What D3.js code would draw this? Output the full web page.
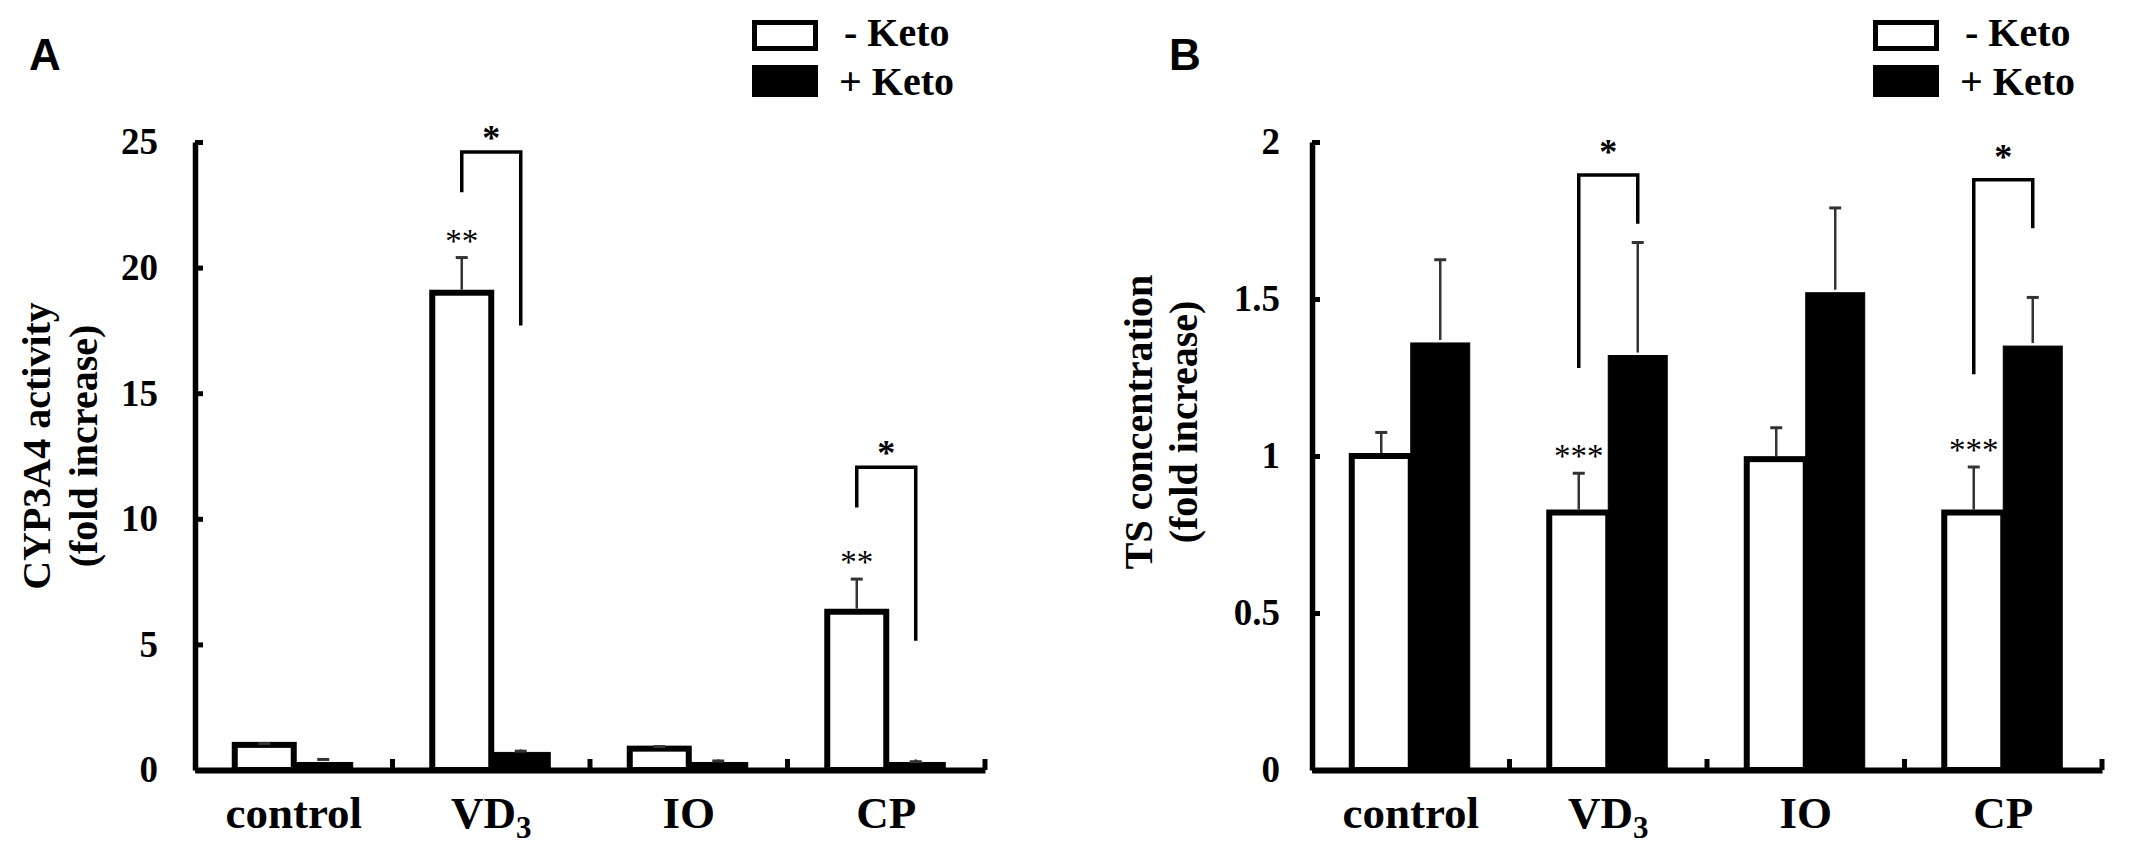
<!DOCTYPE html>
<html>
<head>
<meta charset="utf-8">
<script src="https://cdn.jsdelivr.net/npm/d3@7"></script>
<style>
  body { margin: 0; background: #fff; }
  text { font-family: "Liberation Serif", "Times New Roman", serif; font-weight: bold; fill: #000; }
</style>
</head>
<body>
<svg id="chart" width="2132" height="860"></svg>
<script>
var categories = ['control', 'VD3', 'IO', 'CP'];
var seriesNames = ['- Keto', '+ Keto'];

//// Panel A: CYP3A4 activity
var cypMinus = [1.0, 19.0, 0.85, 6.3];
var cypMinusErr = [0.05, 1.4, 0.08, 1.3];
var cypPlus = [0.3, 0.7, 0.3, 0.3];
var cypPlusErr = [0.12, 0.05, 0.06, 0.03];
var cypTicks = [0, 5, 10, 15, 20, 25];
var cypStars = ['', '**', '', '**'];
// [category, bracket top, left leg end, right leg end]
var cypBrackets = [['VD3', 24.6, 23.0, 17.7], ['CP', 12.05, 10.45, 5.15]];

//// Panel B: TS concentration
var tsMinus = [1.0, 0.82, 0.99, 0.82];
var tsMinusErr = [0.075, 0.125, 0.10, 0.145];
var tsPlus = [1.36, 1.32, 1.52, 1.35];
var tsPlusErr = [0.265, 0.36, 0.27, 0.155];
var tsTicks = [0, 0.5, 1, 1.5, 2];
var tsStars = ['', '***', '', '***'];
var tsBrackets = [['VD3', 1.895, 1.28, 1.74], ['CP', 1.88, 1.26, 1.725]];

var svg = d3.select('#chart');

var drawPanel = function (opt) {
  var g = svg.append('g');

  var x0 = d3.scaleBand()
      .domain(categories)
      .range([opt.left, opt.left + 790]);
  var x1 = d3.scaleBand()
      .domain([0, 1])
      .range([0, x0.bandwidth()])
      .paddingInner(0)
      .paddingOuter(0.674);
  var y = d3.scaleLinear()
      .domain([0, opt.max])
      .range([770, 142]);

  var rows = d3.merge(categories.map(function (c, i) {
    return [
      {cat: c, s: 0, v: opt.minus[i], e: opt.minusErr[i], star: opt.stars[i]},
      {cat: c, s: 1, v: opt.plus[i], e: opt.plusErr[i], star: ''}
    ];
  }));
  var cx = function (cat, s) { return x0(cat) + x1(s) + x1.bandwidth() / 2; };

  // bars
  g.selectAll('rect.bar')
    .data(rows)
    .join('rect')
      .attr('class', 'bar')
      .attr('x', function (d) { return x0(d.cat) + x1(d.s); })
      .attr('y', function (d) { return y(d.v); })
      .attr('width', x1.bandwidth())
      .attr('height', function (d) { return y(0) - y(d.v); })
      .attr('fill', function (d) { return d.s ? '#000' : '#fff'; })
      .attr('stroke', '#000')
      .attr('stroke-width', function (d) { return d.s ? 1 : 6; });

  // error bars
  var err = g.selectAll('g.err')
    .data(rows)
    .join('g')
      .attr('class', 'err')
      .attr('stroke', '#333')
      .attr('stroke-width', 2.5);
  err.append('line')
      .attr('x1', function (d) { return cx(d.cat, d.s); })
      .attr('x2', function (d) { return cx(d.cat, d.s); })
      .attr('y1', function (d) { return y(d.v) - 3; })
      .attr('y2', function (d) { return y(d.v + d.e); });
  err.append('line')
      .attr('x1', function (d) { return cx(d.cat, d.s) - 6; })
      .attr('x2', function (d) { return cx(d.cat, d.s) + 6; })
      .attr('y1', function (d) { return y(d.v + d.e); })
      .attr('y2', function (d) { return y(d.v + d.e); })
      .attr('stroke-width', 3);

  // stars over the -Keto bars
  g.selectAll('text.star')
    .data(rows.filter(function (d) { return d.star; }))
    .join('text')
      .attr('class', 'star')
      .attr('x', function (d) { return cx(d.cat, 0); })
      .attr('y', function (d) { return y(d.v + d.e) - 21 + 15; })
      .attr('text-anchor', 'middle')
      .style('font-size', '33px')
      .style('font-weight', 'normal')
      .text(function (d) { return d.star; });

  // comparison brackets
  g.selectAll('path.bracket')
    .data(opt.brackets)
    .join('path')
      .attr('class', 'bracket')
      .attr('fill', 'none')
      .attr('stroke', '#000')
      .attr('stroke-width', 3.5)
      .attr('d', function (b) {
        return 'M' + cx(b[0], 0) + ',' + y(b[2]) +
               'V' + y(b[1]) + 'H' + cx(b[0], 1) + 'V' + y(b[3]);
      });
  g.selectAll('text.bstar')
    .data(opt.brackets)
    .join('text')
      .attr('class', 'bstar')
      .attr('x', function (b) { return (cx(b[0], 0) + cx(b[0], 1)) / 2; })
      .attr('y', function (b) { return y(b[1]) - opt.starGap + 17; })
      .attr('text-anchor', 'middle')
      .style('font-size', '36px')
      .text('*');

  // y axis, ticks pointing inward
  var yAxis = g.append('g')
      .attr('transform', 'translate(' + opt.left + ',0)')
      .call(d3.axisLeft(y)
        .tickValues(opt.ticks)
        .tickFormat(String)
        .tickSizeInner(-8)
        .tickSizeOuter(0)
        .tickPadding(opt.labelGap));
  yAxis.select('.domain').attr('stroke', '#000').attr('stroke-width', 5.5);
  yAxis.selectAll('.tick line').attr('stroke', '#000').attr('stroke-width', 5);
  yAxis.selectAll('.tick text')
      .attr('fill', '#000')
      .style('font-size', '37px')
      .style('font-family', '"Liberation Serif", "Times New Roman", serif');

  // x axis
  var xAxis = g.append('g')
      .attr('transform', 'translate(0,' + y(0) + ')')
      .call(d3.axisBottom(x0).tickSize(0).tickSizeOuter(0));
  xAxis.select('.domain').attr('stroke', '#000').attr('stroke-width', 6);
  xAxis.selectAll('.tick text')
      .attr('y', 58)
      .attr('dy', null)
      .attr('fill', '#000')
      .style('font-size', '45px')
      .style('font-family', '"Liberation Serif", "Times New Roman", serif')
      .each(function (d) {
        if (d !== 'VD3') return;
        var t = d3.select(this).text('VD');
        t.append('tspan').attr('dy', 10).style('font-size', '31px').text('3');
      });
  xAxis.selectAll('line.sep')
    .data(categories)
    .join('line')
      .attr('class', 'sep')
      .attr('x1', function (c) { return x0(c) + x0.bandwidth(); })
      .attr('x2', function (c) { return x0(c) + x0.bandwidth(); })
      .attr('y1', 0)
      .attr('y2', -11)
      .attr('stroke', '#000')
      .attr('stroke-width', 5);

  // y title, two lines
  g.selectAll('text.ytitle')
    .data(opt.title)
    .join('text')
      .attr('class', 'ytitle')
      .attr('transform', function (t, i) {
        return 'translate(' + opt.titleX[i] + ',' + opt.titleY + ') rotate(-90)';
      })
      .attr('text-anchor', 'middle')
      .style('font-size', '40px')
      .text(function (t) { return t; });

  // panel letter
  g.append('text')
      .attr('x', opt.letterX)
      .attr('y', 70)
      .style('font-family', '"Liberation Sans", Arial, sans-serif')
      .style('font-size', '44px')
      .text(opt.letter);

  // legend
  var leg = g.append('g');
  leg.append('rect')
      .attr('x', opt.legendX + 2.5).attr('y', 22.5)
      .attr('width', 61).attr('height', 26)
      .attr('fill', '#fff').attr('stroke', '#000').attr('stroke-width', 5);
  leg.append('rect')
      .attr('x', opt.legendX).attr('y', 65)
      .attr('width', 66).attr('height', 32)
      .attr('fill', '#000');
  leg.selectAll('text')
    .data(seriesNames)
    .join('text')
      .attr('x', function (s, i) { return opt.legendX + (i ? 87 : 92); })
      .attr('y', function (s, i) { return i ? 95 : 46; })
      .style('font-size', '40px')
      .text(function (s) { return s; });
};

drawPanel({
  left: 195, max: 25,
  minus: cypMinus, minusErr: cypMinusErr,
  plus: cypPlus, plusErr: cypPlusErr,
  ticks: cypTicks, stars: cypStars, brackets: cypBrackets,
  labelGap: 37, starGap: 19,
  title: ['CYP3A4 activity', '(fold increase)'], titleX: [50, 97], titleY: 446,
  letter: 'A', letterX: 29, legendX: 752
});

drawPanel({
  left: 1312, max: 2,
  minus: tsMinus, minusErr: tsMinusErr,
  plus: tsPlus, plusErr: tsPlusErr,
  ticks: tsTicks, stars: tsStars, brackets: tsBrackets,
  labelGap: 32, starGap: 28,
  title: ['TS concentration', '(fold increase)'], titleX: [1152, 1197], titleY: 422,
  letter: 'B', letterX: 1169, legendX: 1873
});
</script>
</body>
</html>
